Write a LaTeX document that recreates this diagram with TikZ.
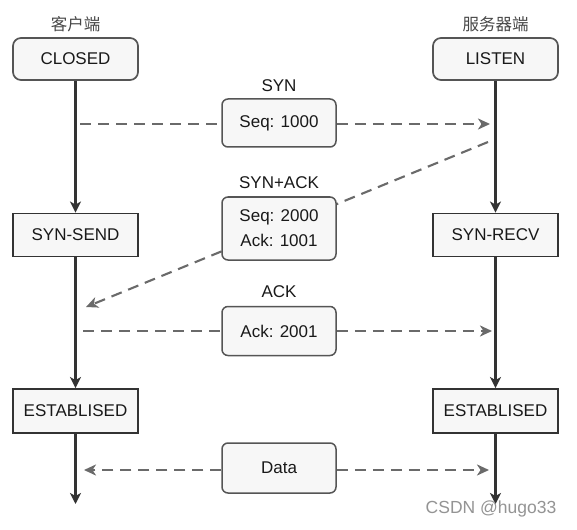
\documentclass[tikz,border=0pt]{standalone}
\usepackage{fontspec}
\setmainfont{Liberation Sans}
\newfontfamily\cjk{Noto Sans CJK SC}
\usetikzlibrary{arrows.meta}
\definecolor{linedark}{HTML}{333333}
\definecolor{dashgray}{HTML}{6A6A6A}
\definecolor{boxfill}{HTML}{F7F7F7}
\definecolor{roundborder}{HTML}{555555}
\begin{document}
\begin{tikzpicture}[x=1pt,y=-1pt,
  every node/.style={font=\fontsize{17}{20}\selectfont, text=black!90},
  statebox/.style={draw=linedark, line width=1.9pt, fill=boxfill, minimum width=125pt, minimum height=43pt, inner sep=0pt},
  roundstate/.style={draw=roundborder, line width=1.7pt, fill=boxfill, rounded corners=8pt, minimum width=125pt, minimum height=42pt, inner sep=0pt},
  msgbox/.style={draw=roundborder, line width=1.5pt, fill=boxfill, rounded corners=6pt, minimum width=114pt, inner sep=0pt, align=center},
  solidarrow/.style={draw=linedark, line width=2.2pt, -{Stealth[length=11pt,width=11pt,inset=3pt]}},
  dasharrow/.style={draw=dashgray, line width=2.1pt, dash pattern=on 11pt off 7pt, -{Stealth[length=12pt,width=11pt,inset=3.5pt]}},
  dashline/.style={draw=dashgray, line width=2.1pt, dash pattern=on 11pt off 7pt},
  sidelabel/.style={font=\cjk\fontsize{16.5}{19}\selectfont, text=black!72},
  msglabel/.style={font=\fontsize{17}{20}\selectfont}
]
\useasboundingbox (0,0) rectangle (577,529);
\fill[white] (0,0) rectangle (577,529);

% side labels
\node[sidelabel] (clientlbl) at (75.5,24) {客户端};
\node[sidelabel] (serverlbl) at (495.5,24) {服务器端};

% coordinates for free ends
\coordinate (c1) at (80,124);
\coordinate (s1) at (490,124);
\coordinate (s2) at (488,142);
\coordinate (c2) at (86,307);
\coordinate (c3) at (83,331);
\coordinate (s3) at (492,331);
\coordinate (c4) at (84,470);
\coordinate (s4) at (489,470);
\coordinate (cend) at (75.5,504);
\coordinate (send) at (495.5,504);

% diagonal SYN+ACK line drawn behind its box
\draw[dasharrow] (s2) -- (c2);

% state nodes
\node[roundstate] (closed) at (75.5,59) {CLOSED};
\node[roundstate] (listen) at (495.5,59) {LISTEN};
\node[statebox] (synsend) at (75.5,235) {SYN-SEND};
\node[statebox] (synrecv) at (495.5,235) {SYN-RECV};
\node[statebox, minimum height=44pt] (estl) at (75.5,411) {ESTABLISED};
\node[statebox, minimum height=44pt] (estr) at (495.5,411) {ESTABLISED};

% message boxes
\node[msgbox, minimum height=48pt] (synbox) at (279,123) {Seq: 1000};
\node[msgbox, minimum height=63pt] (synackbox) at (279,228.5) {Seq: 2000\\[5pt]Ack: 1001};
\node[msgbox, minimum height=49pt] (ackbox) at (279,331) {Ack: 2001};
\node[msgbox, minimum height=50pt] (databox) at (279,468) {Data};

% message labels
\node[msglabel] (synlbl) at (279,86) {SYN};
\node[msglabel] (synacklbl) at (279,183) {SYN+ACK};
\node[msglabel] (acklbl) at (279,292) {ACK};

% timelines
\draw[solidarrow] (closed) -- (synsend);
\draw[solidarrow] (synsend) -- (estl);
\draw[solidarrow] (estl) -- (cend);
\draw[solidarrow] (listen) -- (synrecv);
\draw[solidarrow] (synrecv) -- (estr);
\draw[solidarrow] (estr) -- (send);

% messages
\draw[dashline] (c1) -- (c1 -| synbox.west);
\draw[dasharrow] (synbox.east |- c1) -- (s1);
\draw[dashline] (c3) -- (c3 -| ackbox.west);
\draw[dasharrow] (ackbox.east |- c3) -- (s3);
\draw[dasharrow] (databox.west |- c4) -- (c4);
\draw[dasharrow] (databox.east |- s4) -- (s4);

% watermark
\node[font=\fontsize{17.5}{20}\selectfont, text=black!42] (wm) at (491,509) {CSDN @hugo33};
\end{tikzpicture}
\end{document}
